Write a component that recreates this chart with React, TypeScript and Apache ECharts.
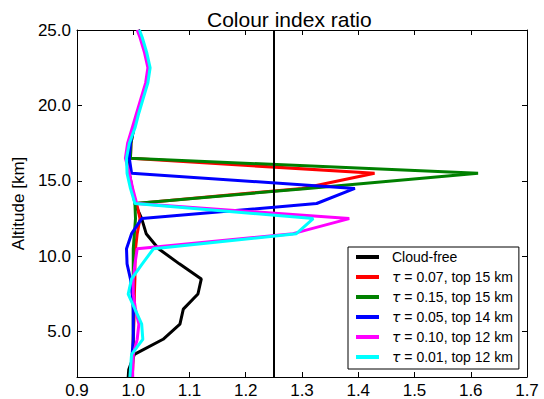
import React, { useEffect, useRef } from "react";
import * as echarts from "echarts";

const altitudes = [2, 2.5, 3.5, 4.5, 5.5, 6.5, 7.5, 8.5, 9.5, 10.5, 11.5, 12.5, 13.5, 14.5, 15.5, 16.5, 17.5, 18.5, 19.5, 20.5, 21.5, 22.5, 23.5, 24.5, 25];

const cloudFree = [0.991, 0.992, 1.002, 1.053, 1.083, 1.089, 1.115, 1.121, 1.082, 1.045, 1.023, 1.015, 1.003, 0.998, 0.993, 0.99, 0.994, 1.0, 1.008, 1.016, 1.024, 1.028, 1.022, 1.014, 1.009];
const tau007top15 = [0.998, 0.999, 1.0, 1.0, 1.001, 1.002, 1.002, 1.003, 1.003, 1.004, 1.007, 1.012, 1.006, 1.3, 1.429, 0.995, 0.996, 1.001, 1.008, 1.016, 1.024, 1.028, 1.022, 1.014, 1.009];
const tau015top15 = [0.997, 0.998, 1.0, 1.0, 1.0, 1.0, 1.0, 1.0, 1.0, 1.0, 1.002, 1.004, 1.003, 1.31, 1.613, 0.995, 0.996, 1.001, 1.008, 1.016, 1.024, 1.028, 1.022, 1.014, 1.009];
const tau005top14 = [0.995, 0.996, 0.998, 1.0, 1.0, 1.0, 0.998, 0.995, 0.989, 0.988, 0.997, 1.015, 1.326, 1.394, 0.997, 0.993, 0.995, 1.001, 1.008, 1.016, 1.024, 1.028, 1.022, 1.014, 1.009];
const tau010top12 = [0.999, 0.999, 1.0, 1.007, 1.01, 1.004, 1.0, 1.0, 1.003, 1.007, 1.284, 1.384, 1.006, 0.999, 0.993, 0.986, 0.99, 0.998, 1.006, 1.014, 1.022, 1.026, 1.02, 1.012, 1.007];
const tau001top12 = [0.994, 0.995, 0.997, 1.017, 1.015, 1.003, 0.991, 0.997, 1.016, 1.036, 1.29, 1.32, 1.003, 0.995, 0.989, 0.988, 0.993, 1.003, 1.01, 1.018, 1.026, 1.03, 1.024, 1.016, 1.011];

const seriesNames = [
  "Cloud-free",
  "τ = 0.07, top 15 km",
  "τ = 0.15, top 15 km",
  "τ = 0.05, top 14 km",
  "τ = 0.10, top 12 km",
  "τ = 0.01, top 12 km",
];
const seriesValues = [cloudFree, tau007top15, tau015top15, tau005top14, tau010top12, tau001top12];
const seriesColors = ["#000000", "#ff0000", "#008000", "#0000ff", "#ff00ff", "#00ffff"];

const xTicks = [0.9, 1.0, 1.1, 1.2, 1.3, 1.4, 1.5, 1.6, 1.7];
const yTicks = [5, 10, 15, 20, 25];
const referenceRatio = 1.25;

const FONT = "Liberation Sans";

export default function App() {
  const ref = useRef<HTMLDivElement>(null);
  useEffect(() => {
    if (!ref.current) return;
    const chart = echarts.init(ref.current, undefined, { renderer: "svg" });
    const tickCommon = { show: true, inside: true, length: 5, lineStyle: { color: "#000", width: 1 } };
    const lineSeries = seriesNames.map((name, i) => ({
      name,
      type: "line",
      xAxisIndex: 0,
      yAxisIndex: 0,
      data: seriesValues[i].map((v, j) => [v, altitudes[j]]),
      showSymbol: false,
      symbol: "none",
      color: seriesColors[i],
      lineStyle: { color: seriesColors[i], width: 3 },
      z: 2 + i,
    }));
    chart.setOption({
      animation: false,
      backgroundColor: "#fff",
      title: {
        text: "Colour index ratio",
        left: 202,
        top: 4,
        textStyle: { fontFamily: FONT, fontSize: 21, fontWeight: "normal", color: "#000" },
      },
      grid: { left: 77, right: 17, top: 30, bottom: 22 },
      legend: {
        data: seriesNames,
        orient: "vertical",
        left: 348,
        top: 247,
        icon: "rect",
        itemWidth: 23,
        itemHeight: 4,
        itemGap: 6,
        padding: [3, 6, 5, 8],
        backgroundColor: "#fff",
        borderColor: "#000",
        borderWidth: 1,
        borderRadius: 0,
        formatter: (name: string) => (name.startsWith("τ") ? "{t|τ}" + name.slice(1) : name),
        textStyle: {
          fontFamily: FONT,
          fontSize: 14,
          color: "#000",
          lineHeight: 14,
          padding: [0, 0, 0, 8],
          rich: {
            t: { fontFamily: "DejaVu Sans", fontStyle: "italic", fontSize: 14, lineHeight: 14, color: "#000" },
          },
        },
      },
      xAxis: [
        {
          type: "value",
          position: "bottom",
          min: 0.9,
          max: 1.7,
          axisLine: { show: true, lineStyle: { color: "#000", width: 1 } },
          axisTick: { ...tickCommon, customValues: xTicks },
          axisLabel: {
            customValues: xTicks,
            formatter: (v: number) => v.toFixed(1),
            fontFamily: FONT,
            fontSize: 17,
            color: "#000",
            margin: 5,
            showMinLabel: true,
            showMaxLabel: true,
          },
          splitLine: { show: false },
        },
        {
          type: "value",
          position: "top",
          min: 0.9,
          max: 1.7,
          axisLine: { show: true, lineStyle: { color: "#000", width: 1 } },
          axisTick: { ...tickCommon, customValues: xTicks },
          axisLabel: { show: false },
          splitLine: { show: false },
        },
      ],
      yAxis: [
        {
          type: "value",
          position: "left",
          min: 2,
          max: 25,
          name: "Altitude [km]",
          nameLocation: "middle",
          nameRotate: 90,
          nameGap: 45,
          nameTextStyle: { fontFamily: FONT, fontSize: 17, color: "#000" },
          axisLine: { show: true, lineStyle: { color: "#000", width: 1 } },
          axisTick: { ...tickCommon, customValues: yTicks },
          axisLabel: {
            customValues: yTicks,
            formatter: (v: number) => v.toFixed(1),
            fontFamily: FONT,
            fontSize: 17,
            color: "#000",
            margin: 6,
            showMinLabel: true,
            showMaxLabel: true,
          },
          splitLine: { show: false },
        },
        {
          type: "value",
          position: "right",
          min: 2,
          max: 25,
          axisLine: { show: true, lineStyle: { color: "#000", width: 1 } },
          axisTick: { ...tickCommon, customValues: yTicks },
          axisLabel: { show: false },
          splitLine: { show: false },
        },
      ],
      series: [
        ...lineSeries,
        {
          name: "reference",
          type: "line",
          xAxisIndex: 0,
          yAxisIndex: 0,
          data: [],
          z: 20,
          markLine: {
            silent: true,
            symbol: ["none", "none"],
            label: { show: false },
            lineStyle: { color: "#000", width: 2, type: "solid" },
            data: [{ xAxis: referenceRatio }],
          },
        },
      ],
    });
    return () => chart.dispose();
  }, []);
  return <div ref={ref} style={{ width: 544, height: 399, position: "absolute", left: 0, top: 0 }} />;
}
